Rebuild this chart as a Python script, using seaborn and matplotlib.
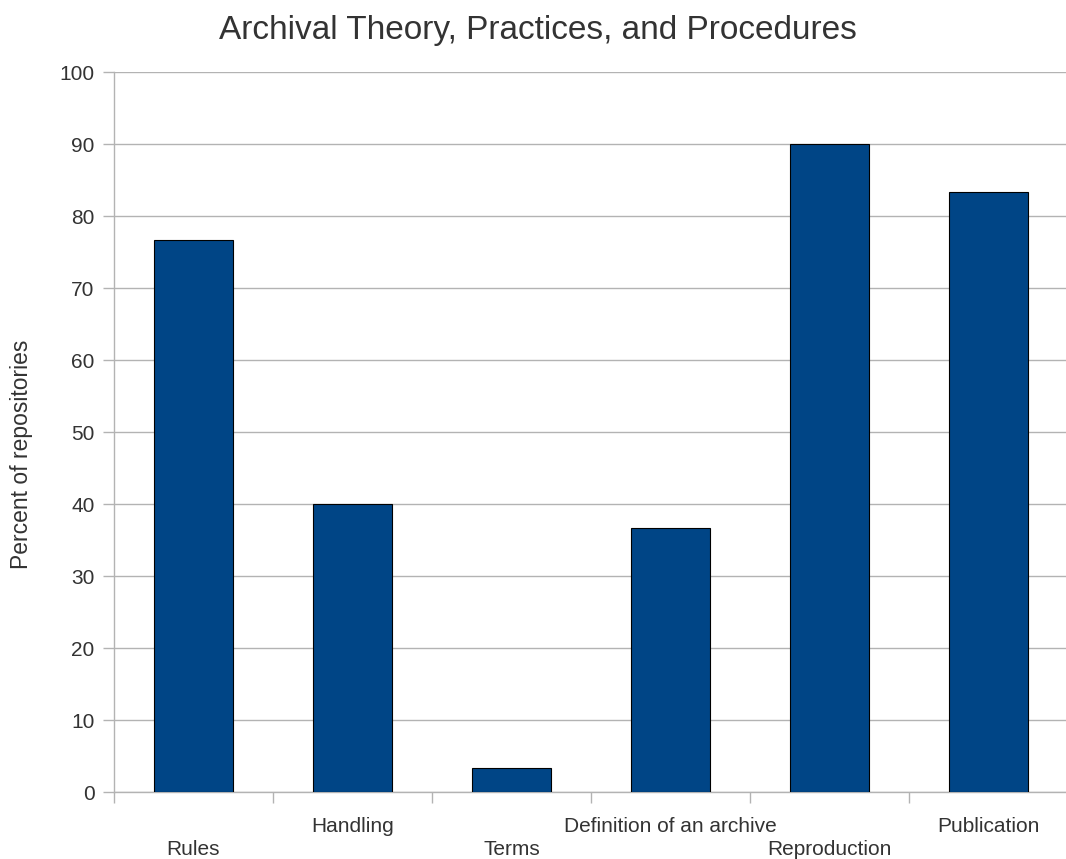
import pandas as pd
import matplotlib.pyplot as plt
import matplotlib.transforms as mtransforms
import seaborn as sns

categories = ["Rules", "Handling", "Terms", "Definition of an archive", "Reproduction", "Publication"]
percent = [76.7, 40.0, 3.3, 36.7, 90.0, 83.3]

df = pd.DataFrame({"category": categories, "percent": percent})

sns.set_style("white")
plt.rcParams["font.family"] = ["Liberation Sans", "DejaVu Sans"]

fig = plt.figure(figsize=(10.66, 8.59), dpi=100)
ax = fig.add_axes([114 / 1066, 67 / 859, 954 / 1066, 720 / 859])

sns.barplot(data=df, x="category", y="percent", color="#004586", saturation=1,
            edgecolor="black", linewidth=0.8, width=0.5, ax=ax, zorder=3)

grid_c = "#b3b3b3"
text_c = "#333333"
ax.set_ylim(0, 100)
ax.set_xlim(-0.5, 5.5)
ax.set_yticks(range(0, 101, 10))
ax.yaxis.grid(True, color=grid_c, linewidth=1, zorder=0)
ax.set_axisbelow(True)

for side in ["top", "right"]:
    ax.spines[side].set_visible(False)
for side in ["left", "bottom"]:
    ax.spines[side].set_color(grid_c)
    ax.spines[side].set_linewidth(1)

ax.tick_params(axis="y", length=8, width=1, color=grid_c, labelsize=15, labelcolor=text_c, pad=6, left=True)
ax.set_xticks(range(len(categories)))
ax.set_xticklabels(categories)
ax.tick_params(axis="x", which="major", length=0, labelsize=15, labelcolor=text_c, pad=18)
ax.set_xticks([i - 0.5 for i in range(len(categories) + 1)], minor=True)
ax.tick_params(axis="x", which="minor", length=8, width=1, color=grid_c, bottom=True)

# staggered labels: first, third, fifth go lower
shift = mtransforms.ScaledTranslation(0, -23 / 100, fig.dpi_scale_trans)
for i, lab in enumerate(ax.get_xticklabels()):
    if i % 2 == 0:
        lab.set_transform(lab.get_transform() + shift)

ax.set_xlabel("")
ax.set_ylabel("")
fig.text(22 / 1066, 405 / 859, "Percent of repositories", rotation=90, fontsize=16.5,
         color=text_c, ha="center", va="center")
fig.text(538 / 1066, 829 / 859, "Archival Theory, Practices, and Procedures", fontsize=24,
         color=text_c, ha="center", va="center")

fig.savefig("out.png", dpi=100)
